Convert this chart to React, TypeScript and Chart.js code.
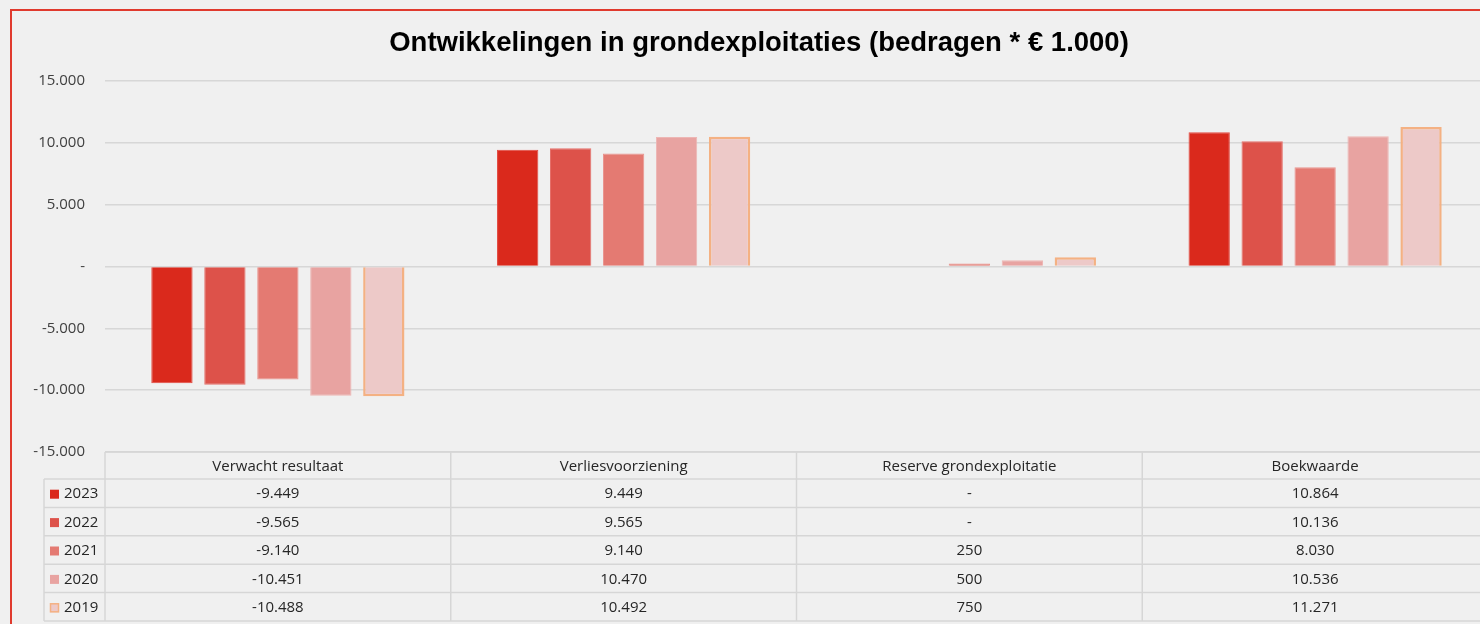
import React, { useEffect, useRef } from 'react';
import { Chart, registerables } from 'chart.js';

Chart.register(...registerables);

const TITLE = 'Ontwikkelingen in grondexploitaties (bedragen * € 1.000)';
const categories = ['Verwacht resultaat', 'Verliesvoorziening', 'Reserve grondexploitatie', 'Boekwaarde'];
const years = ['2023', '2022', '2021', '2020', '2019'];
const values2023 = [-9449, 9449, 0, 10864];
const values2022 = [-9565, 9565, 0, 10136];
const values2021 = [-9140, 9140, 250, 8030];
const values2020 = [-10451, 10470, 500, 10536];
const values2019 = [-10488, 10492, 750, 11271];
const seriesValues = [values2023, values2022, values2021, values2020, values2019];
const yMin = -15000;
const yMax = 15000;
const yStep = 5000;

const fillColors = ['#DA291C', '#DD524A', '#E47A72', '#E8A3A1', '#EDC9C8'];
const borderColors = ['#E24A40', '#E5706A', '#EA948E', '#EDB6B4', '#F4B183'];
const borderWidths = [1, 1, 1, 1, 2.5];

const FONT = "'Open Sans', 'Noto Sans', sans-serif";

function fmt(v: number): string {
  if (v === 0) return '-';
  const neg = v < 0;
  const s = Math.abs(Math.round(v)).toString().replace(/\B(?=(\d{3})+(?!\d))/g, '.');
  return (neg ? '-' : '') + s;
}

const W = 1518;
const H = 660;

export default function App() {
  const ref = useRef<HTMLCanvasElement | null>(null);

  useEffect(() => {
    const canvas = ref.current;
    if (!canvas) return;

    const framePlugin = {
      id: 'frame',
      beforeDraw(chart: any) {
        const ctx = chart.ctx;
        ctx.save();
        ctx.fillStyle = '#F0F0F0';
        ctx.fillRect(0, 0, chart.width, chart.height);
        ctx.strokeStyle = '#E03A2E';
        ctx.lineWidth = 2;
        ctx.strokeRect(11, 10, chart.width + 100, chart.height + 100);
        ctx.restore();
      },
      afterDraw(chart: any) {
        const ctx = chart.ctx;
        const area = chart.chartArea;
        const xs = chart.scales.x;
        const n = categories.length;
        const catW = (area.right - area.left) / n;
        ctx.save();
        // title
        ctx.fillStyle = '#000000';
        ctx.font = "bold 27.5px 'Liberation Sans', Arial, sans-serif";
        ctx.textAlign = 'center';
        ctx.textBaseline = 'middle';
        ctx.fillText(TITLE, 759, 43);

        // data table
        const top = area.bottom;
        const headerH = 27;
        const rowH = 28.4;
        const legendLeft = 44;
        const bottom = top + headerH + rowH * years.length;
        ctx.strokeStyle = '#D6D6D6';
        ctx.lineWidth = 1.5;
        ctx.beginPath();
        ctx.moveTo(area.left, top);
        ctx.lineTo(area.right, top);
        for (let r = 0; r <= years.length; r++) {
          const y = top + headerH + r * rowH;
          ctx.moveTo(legendLeft, y);
          ctx.lineTo(area.right, y);
        }
        ctx.moveTo(legendLeft, top + headerH);
        ctx.lineTo(legendLeft, bottom);
        for (let i = 0; i <= n; i++) {
          const x = area.left + i * catW;
          ctx.moveTo(x, top);
          ctx.lineTo(x, bottom);
        }
        ctx.stroke();

        ctx.fillStyle = '#262626';
        ctx.font = `15px ${FONT}`;
        ctx.textAlign = 'center';
        ctx.textBaseline = 'middle';
        categories.forEach((c, i) => {
          const cx = xs.getPixelForValue(i);
          ctx.fillText(c, cx, top + headerH / 2 + 1);
        });
        years.forEach((yr, r) => {
          const cy = top + headerH + r * rowH + rowH / 2 + 1;
          // legend marker
          ctx.fillStyle = fillColors[r];
          ctx.fillRect(50, cy - 4.5, 9, 9);
          if (borderWidths[r] > 1) {
            ctx.strokeStyle = borderColors[r];
            ctx.lineWidth = 1.5;
            ctx.strokeRect(50.5, cy - 4, 8, 8);
          }
          ctx.fillStyle = '#262626';
          ctx.textAlign = 'left';
          ctx.fillText(yr, 64, cy);
          ctx.textAlign = 'center';
          seriesValues[r].forEach((v, i) => {
            ctx.fillText(fmt(v), xs.getPixelForValue(i), cy);
          });
        });
        ctx.restore();
      },
    };

    const chart = new Chart(canvas, {
      type: 'bar',
      data: {
        labels: categories,
        datasets: years.map((yr, i) => ({
          label: yr,
          data: seriesValues[i].map((v) => (v === 0 ? null : v)),
          backgroundColor: fillColors[i],
          borderColor: borderColors[i],
          borderWidth: borderWidths[i],
          categoryPercentage: 0.766,
          barPercentage: 0.78,
        })),
      },
      options: {
        responsive: false,
        animation: false,
        devicePixelRatio: 1,
        layout: { padding: { top: 81, right: 30, bottom: H - 452, left: 0 } },
        plugins: {
          legend: { display: false },
          title: { display: false },
          tooltip: { enabled: false },
        },
        scales: {
          x: {
            display: false,
          },
          y: {
            min: yMin,
            max: yMax,
            z: 1,
            border: { display: false },
            grid: {
              color: 'rgba(0,0,0,0.1)',
              lineWidth: 1.5,
              drawTicks: false,
              tickLength: 0,
            },
            ticks: {
              stepSize: yStep,
              padding: 20,
              color: '#404040',
              font: { family: FONT, size: 15 },
              callback: (v: any) => fmt(Number(v)),
            },
            afterFit: (scale: any) => {
              scale.width = 105;
            },
          },
        },
      },
      plugins: [framePlugin],
    } as any);

    return () => chart.destroy();
  }, []);

  return (
    <div
      style={{
        position: 'fixed',
        left: 0,
        top: 0,
        width: 1480,
        height: 624,
        overflow: 'hidden',
        background: '#F0F0F0',
      }}
    >
      <canvas ref={ref} width={W} height={H} style={{ width: W, height: H, display: 'block' }} />
    </div>
  );
}
